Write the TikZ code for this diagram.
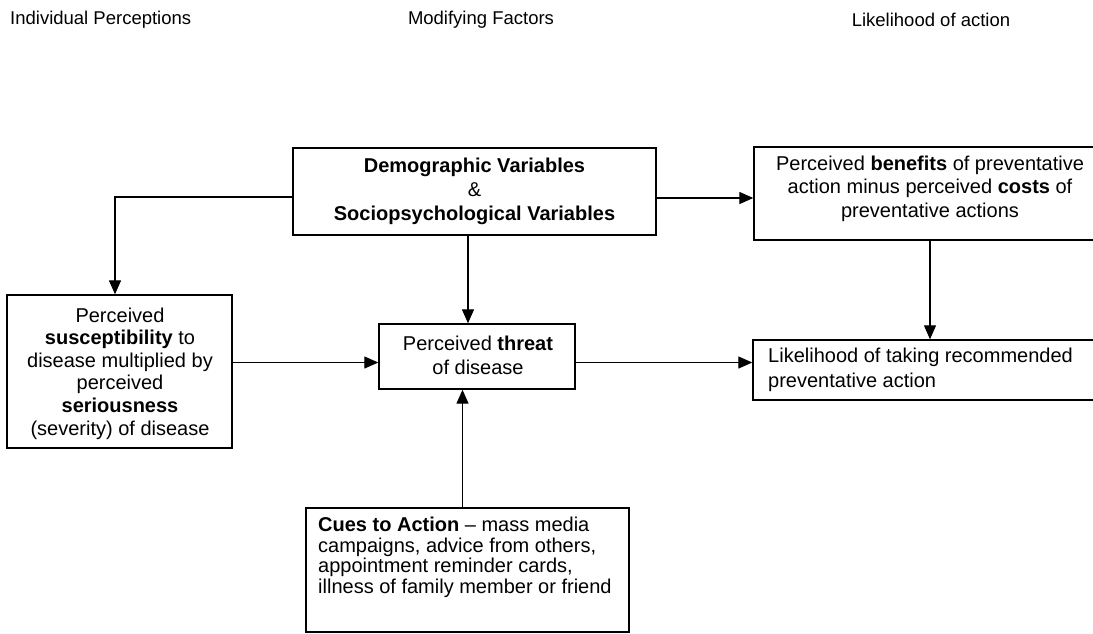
\documentclass[tikz,border=0pt]{standalone}
\usepackage{fontspec}
\setmainfont{Liberation Sans}
\usetikzlibrary{arrows.meta}
\begin{document}
\begin{tikzpicture}[x=1pt,y=-1pt,
  box/.style={draw, line width=1.4pt, inner sep=0pt},
  txt/.style={inner sep=0pt, align=center},
  head/.style={font=\fontsize{18.5}{22}\selectfont, inner sep=0pt},
  arr/.style={line width=1.3pt, -{Triangle[length=14pt,width=12pt]}}]
\useasboundingbox (0,0) rectangle (1093,633);
\fill[white] (0,0) rectangle (1093,633);

% column headings
\node[head, anchor=west] (hIndiv) at (10,20) {Individual Perceptions};
\node[head] (hMod) at (481,20) {Modifying Factors};
\node[head] (hLike) at (931,20) {Likelihood of action};

% boxes
\node[box, minimum width=363pt, minimum height=87pt] (demo) at (474.5,191.5) {};
\node[box, minimum width=352pt, minimum height=93pt] (benef) at (930,193.5) {};
\node[box, minimum width=225pt, minimum height=153pt] (susc) at (119.5,371.5) {};
\node[box, minimum width=196pt, minimum height=65pt] (threat) at (477,356.5) {};
\node[box, minimum width=357pt, minimum height=60pt] (likeli) at (931.5,370) {};
\node[box, minimum width=323pt, minimum height=124pt] (cues) at (467.5,570) {};

% box texts
\node[txt, font=\fontsize{20}{24}\selectfont] (demoT) at (474.5,191)
  {\textbf{Demographic Variables}\\\&\\\textbf{Sociopsychological Variables}};
\node[txt, font=\fontsize{20}{23.5}\selectfont] (benefT) at (930,188.5)
  {Perceived \textbf{benefits} of preventative\\action minus perceived \textbf{costs} of\\preventative actions};
\node[txt, font=\fontsize{20}{22.6}\selectfont] (suscT) at (120,373.5)
  {Perceived\\\textbf{susceptibility} to\\disease multiplied by\\perceived\\\textbf{seriousness}\\(severity) of disease};
\node[txt, font=\fontsize{20}{24}\selectfont] (threatT) at (478,355)
  {Perceived \textbf{threat}\\of disease};
\node[txt, align=left, anchor=west, font=\fontsize{20}{25}\selectfont] (likeliT) at (768,369.5)
  {Likelihood of taking recommended\\preventative action};
\node[txt, align=left, anchor=north west, font=\fontsize{20}{20.5}\selectfont] (cuesT) at (318,517)
  {\textbf{Cues to Action} – mass media\\campaigns, advice from others,\\appointment reminder cards,\\illness of family member or friend};

% connectors
\coordinate (dLeft) at ([yshift=-5.5pt]demo.west);
\coordinate (sTop) at ([xshift=-4.5pt]susc.north);
\draw[arr] (dLeft) -| (sTop);

\coordinate (dDown) at ([xshift=-6.5pt]demo.south);
\draw[arr] (dDown) -- (dDown |- threat.north);

\coordinate (dRight) at ([yshift=-6.5pt]demo.east);
\draw[arr] (dRight) -- (dRight -| benef.west);

\draw[arr] (benef.south) -- (benef.south |- likeli.north);

\coordinate (tIn) at ([yshift=-6pt]threat.west);
\draw[arr] (tIn -| susc.east) -- (tIn);
\draw[arr] (tIn -| threat.east) -- (tIn -| likeli.west);

\coordinate (cUp) at ([xshift=-5pt]cues.north);
\draw[arr] (cUp) -- (cUp |- threat.south);
\end{tikzpicture}
\end{document}
